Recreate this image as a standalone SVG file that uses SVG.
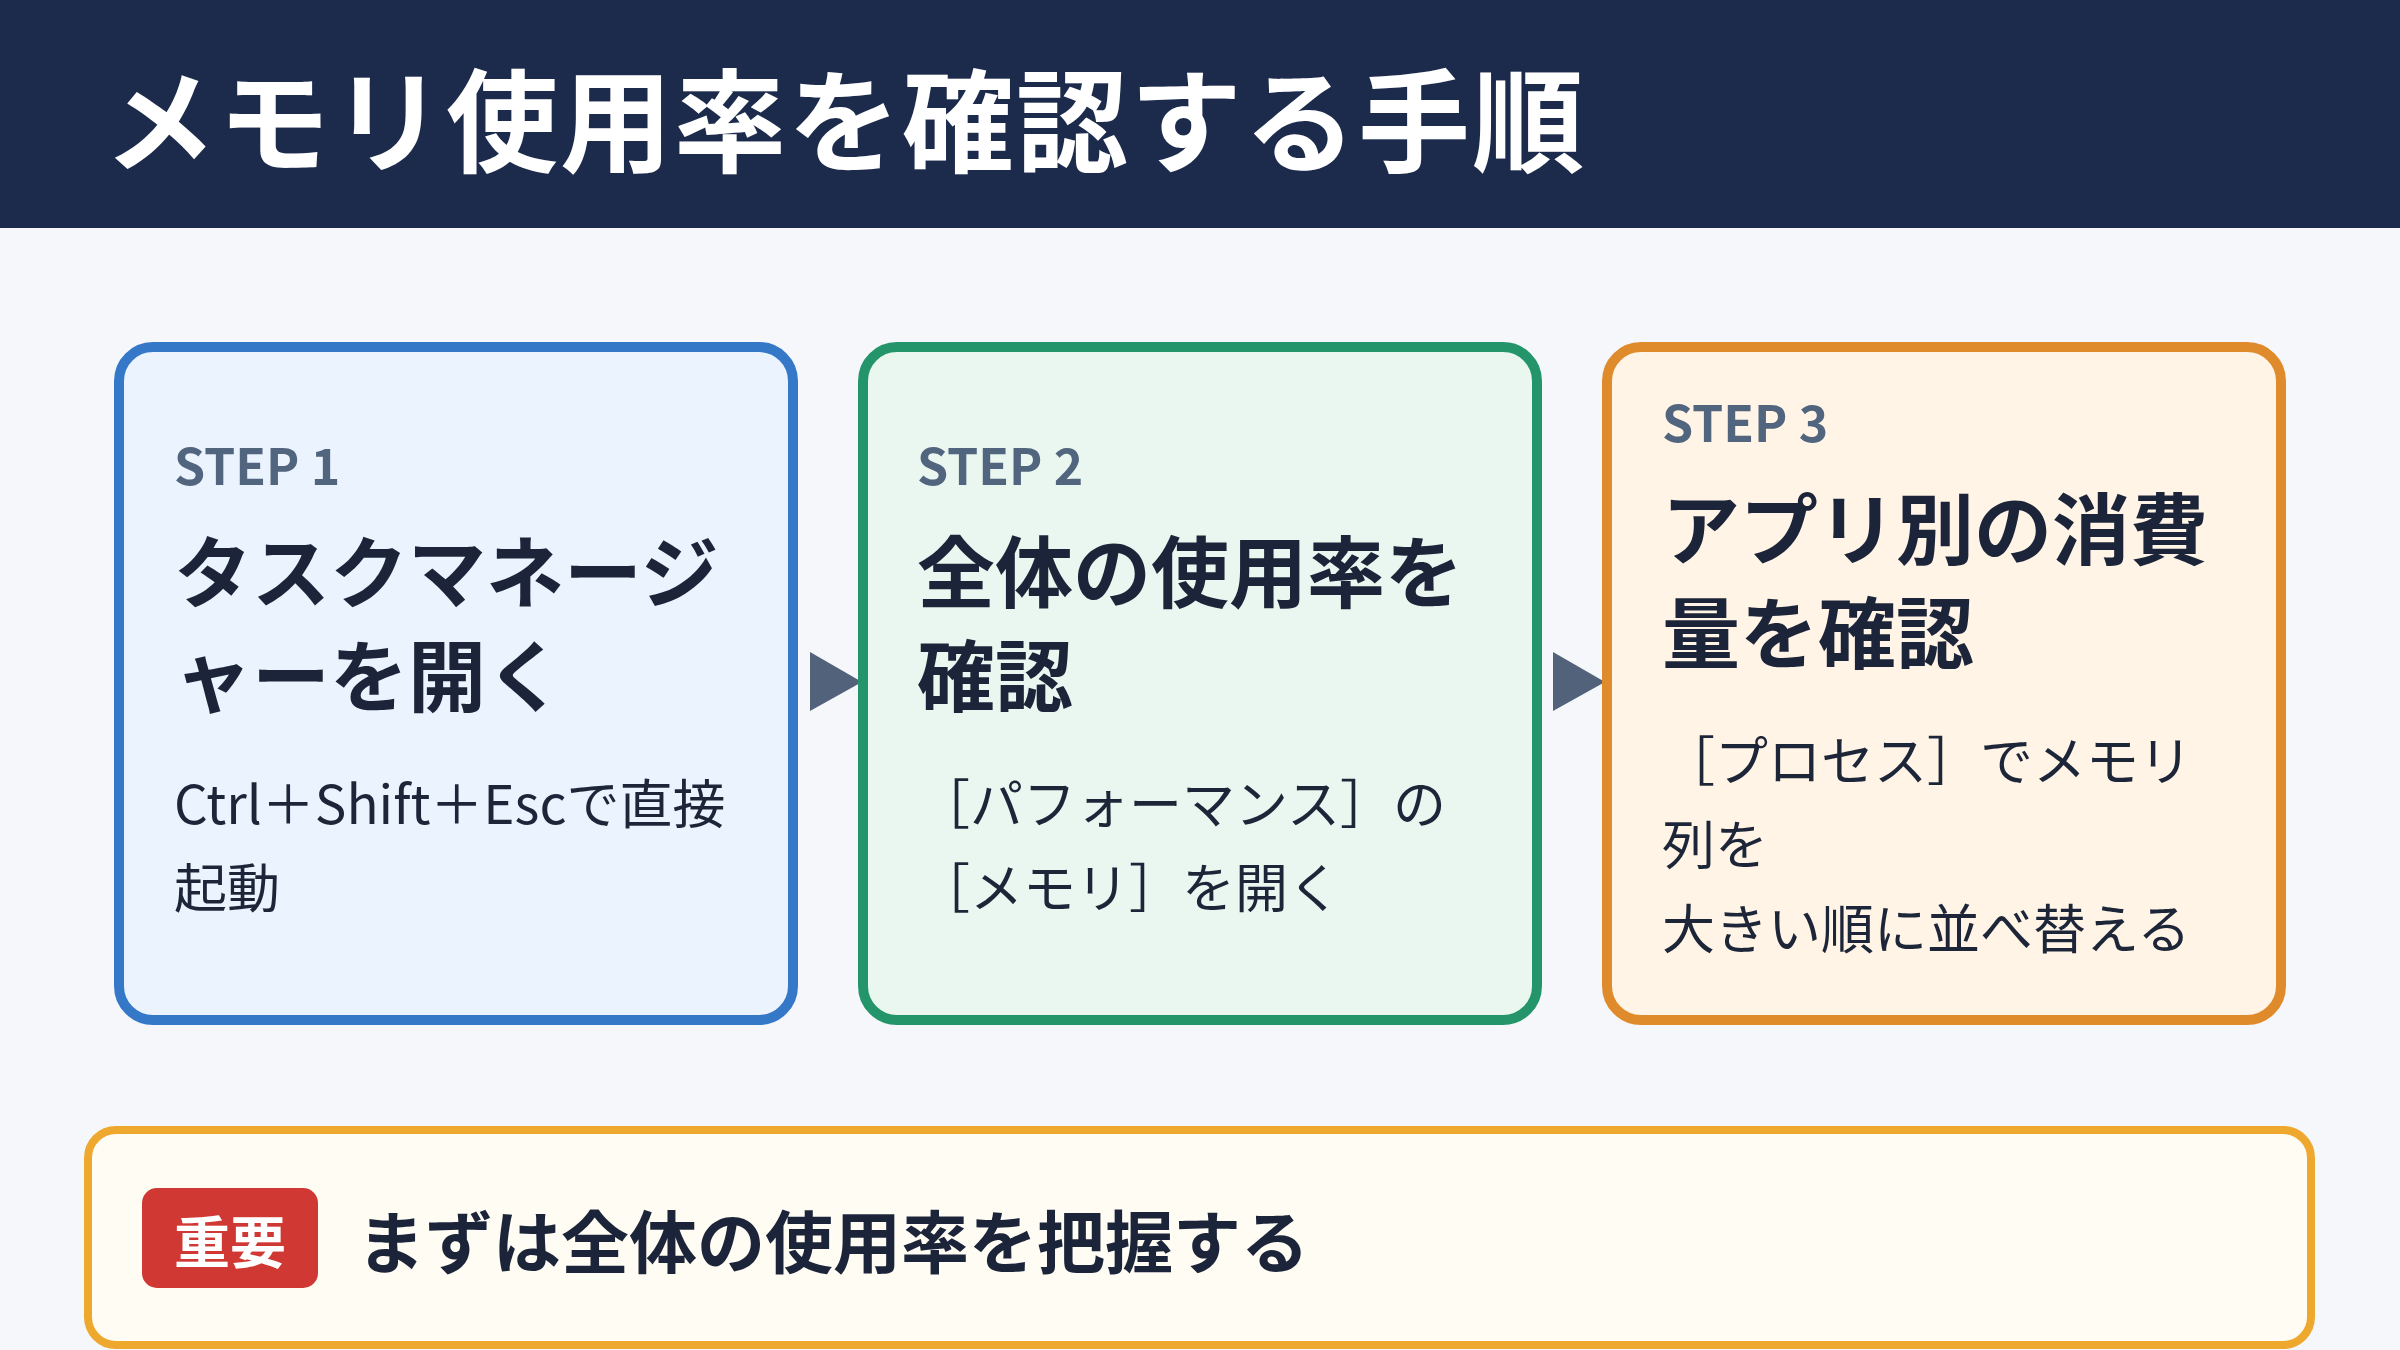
<svg xmlns="http://www.w3.org/2000/svg" width="2400" height="1350" viewBox="0 0 2400 1350">
<style>
text{font-family:"Noto Sans CJK JP","Noto Sans",sans-serif;}
.step{font-size:50px;font-weight:700;fill:#52657f;}
.ttl{font-size:78px;font-weight:700;fill:#1b2438;}
.body{font-size:53px;font-weight:400;fill:#1c2638;}
.card{stroke-width:10;}
</style>
<rect x="0" y="0" width="2400" height="1350" fill="#f5f7fb"/>
<g id="header">
<rect x="0" y="0" width="2400" height="228" fill="#1c2b4b"/>
<text x="104" y="164" font-size="112" font-weight="700" fill="#ffffff" letter-spacing="2">メモリ使用率を確認する手順</text>
</g>
<g id="connectors" fill="#52627a">
<polygon points="810,652 862,682 810,711"/>
<polygon points="1553,652 1605,682 1553,711"/>
</g>
<g id="step1">
<rect class="card" x="119" y="347" width="674" height="673" rx="34" fill="#ebf3ff" stroke="#3578c8"/>
<text class="step" x="174" y="485">STEP 1</text>
<text class="ttl" x="174" y="602">タスクマネージ</text>
<text class="ttl" x="174" y="706">ャーを開く</text>
<text class="body" x="174" y="824">Ctrl＋Shift＋Escで直接</text>
<text class="body" x="174" y="908">起動</text>
</g>
<g id="step2">
<rect class="card" x="863" y="347" width="674" height="673" rx="34" fill="#eaf7f0" stroke="#24956a"/>
<text class="step" x="917" y="485">STEP 2</text>
<text class="ttl" x="917" y="602">全体の使用率を</text>
<text class="ttl" x="917" y="706">確認</text>
<text class="body" x="917" y="824">［パフォーマンス］の</text>
<text class="body" x="917" y="908">［メモリ］を開く</text>
</g>
<g id="step3">
<rect class="card" x="1607" y="347" width="674" height="673" rx="34" fill="#fff4e6" stroke="#df8a2b"/>
<text class="step" x="1662" y="442">STEP 3</text>
<text class="ttl" x="1662" y="559">アプリ別の消費</text>
<text class="ttl" x="1662" y="663">量を確認</text>
<text class="body" x="1662" y="781">［プロセス］でメモリ</text>
<text class="body" x="1662" y="865">列を</text>
<text class="body" x="1662" y="949">大きい順に並べ替える</text>
</g>
<g id="note">
<rect x="88" y="1130" width="2223" height="215" rx="28" fill="#fffcf4" stroke="#eea82d" stroke-width="8"/>
<rect x="142" y="1188" width="176" height="100" rx="15" fill="#d03834"/>
<text x="230" y="1263" font-size="56" font-weight="700" fill="#ffffff" text-anchor="middle">重要</text>
<text x="357" y="1268" font-size="68" font-weight="700" fill="#1b2438">まずは全体の使用率を把握する</text>
</g>
</svg>
